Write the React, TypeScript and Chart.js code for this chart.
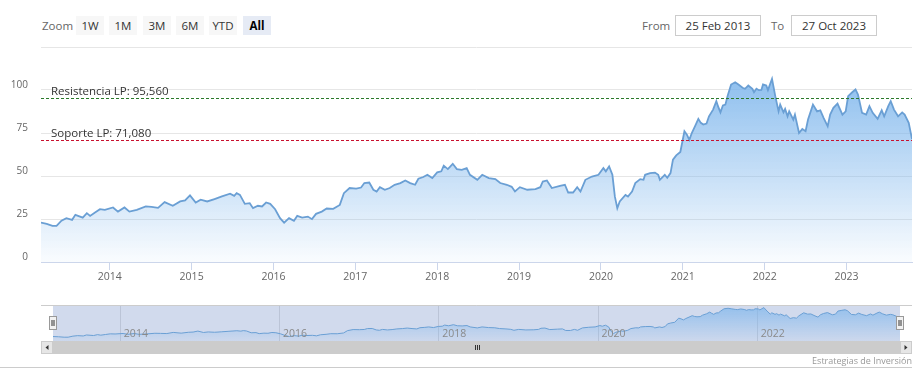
import React, { useEffect, useRef } from 'react';
import { Chart, registerables } from 'chart.js';

Chart.register(...registerables);

// ---- data ----
const dates: number[] = [
  2013.16, 2013.23, 2013.30, 2013.35, 2013.41, 2013.47, 2013.54, 2013.58, 2013.67, 2013.72,
  2013.76, 2013.82, 2013.88, 2013.94, 2014.04, 2014.10, 2014.18, 2014.24, 2014.33, 2014.44,
  2014.51, 2014.59, 2014.67, 2014.77, 2014.86, 2014.92, 2014.98, 2015.05, 2015.11, 2015.19,
  2015.28, 2015.37, 2015.47, 2015.52, 2015.55, 2015.59, 2015.65, 2015.71, 2015.75, 2015.81,
  2015.86, 2015.91, 2015.96, 2016.02, 2016.08, 2016.13, 2016.19, 2016.25, 2016.29, 2016.35,
  2016.42, 2016.47, 2016.52, 2016.59, 2016.65, 2016.73, 2016.81, 2016.86, 2016.93, 2017.01,
  2017.07, 2017.11, 2017.17, 2017.22, 2017.26, 2017.30, 2017.36, 2017.42, 2017.48, 2017.55,
  2017.61, 2017.67, 2017.73, 2017.77, 2017.83, 2017.88, 2017.94, 2018.00, 2018.05, 2018.08,
  2018.13, 2018.19, 2018.24, 2018.30, 2018.36, 2018.40, 2018.49, 2018.55, 2018.63, 2018.71,
  2018.77, 2018.85, 2018.91, 2018.95, 2019.01, 2019.10, 2019.20, 2019.26, 2019.29, 2019.34,
  2019.40, 2019.50, 2019.56, 2019.60, 2019.66, 2019.71, 2019.75, 2019.81, 2019.89, 2019.97,
  2020.03, 2020.06, 2020.10, 2020.14, 2020.17, 2020.20, 2020.23, 2020.30, 2020.33, 2020.38,
  2020.42, 2020.48, 2020.52, 2020.54, 2020.60, 2020.66, 2020.70, 2020.72, 2020.78, 2020.81,
  2020.85, 2020.88, 2020.92, 2020.97, 2021.02, 2021.05, 2021.08, 2021.11, 2021.15, 2021.19,
  2021.22, 2021.25, 2021.29, 2021.32, 2021.37, 2021.41, 2021.43, 2021.46, 2021.49, 2021.52,
  2021.55, 2021.59, 2021.64, 2021.68, 2021.73, 2021.76, 2021.80, 2021.85, 2021.87, 2021.90,
  2021.93, 2021.96, 2021.98, 2022.02, 2022.04, 2022.09, 2022.13, 2022.17, 2022.19, 2022.23,
  2022.25, 2022.28, 2022.30, 2022.35, 2022.37, 2022.42, 2022.46, 2022.50, 2022.53, 2022.59,
  2022.64, 2022.68, 2022.72, 2022.77, 2022.80, 2022.84, 2022.89, 2022.95, 2022.99, 2023.02,
  2023.07, 2023.11, 2023.14, 2023.19, 2023.24, 2023.28, 2023.32, 2023.38, 2023.43, 2023.46,
  2023.51, 2023.54, 2023.58, 2023.63, 2023.68, 2023.71, 2023.76, 2023.80,
];

const prices: number[] = [
  22.9, 22.2, 21.0, 21.0, 24.0, 25.5, 24.5, 27.4, 25.8, 28.4,
  26.8, 28.8, 30.7, 30.3, 31.7, 29.3, 31.7, 29.3, 30.3, 32.3,
  32.0, 31.5, 34.8, 32.7, 35.2, 35.8, 38.7, 34.6, 36.2, 35.2,
  36.6, 38.1, 39.7, 38.5, 40.0, 39.0, 33.8, 34.2, 31.3, 32.7,
  32.3, 34.6, 33.8, 30.7, 25.5, 22.9, 25.5, 24.0, 26.8, 25.8,
  26.4, 24.9, 28.0, 29.3, 31.1, 30.9, 33.2, 40.0, 43.0, 42.7,
  43.3, 45.9, 46.2, 42.0, 41.0, 43.5, 42.0, 43.0, 44.9, 45.9,
  47.4, 45.9, 44.9, 48.4, 49.4, 50.7, 48.8, 52.1, 52.7, 56.0,
  54.0, 57.1, 54.0, 53.6, 54.6, 50.7, 47.8, 50.7, 48.8, 48.2,
  45.9, 44.9, 43.7, 41.0, 43.5, 42.0, 42.4, 43.5, 46.8, 47.4,
  43.0, 44.3, 44.9, 40.4, 40.4, 43.5, 41.0, 47.8, 49.7, 50.7,
  54.6, 52.7, 55.6, 50.7, 38.1, 31.3, 35.2, 39.0, 38.1, 41.0,
  45.9, 48.2, 47.8, 50.7, 51.7, 52.0, 50.7, 47.8, 50.7, 49.0,
  51.7, 59.5, 62.0, 64.0, 76.0, 74.0, 71.0, 75.0, 79.0, 83.2,
  80.9, 79.9, 80.5, 84.7, 88.6, 93.5, 90.6, 87.0, 91.0, 91.5,
  97.0, 103.2, 104.5, 103.2, 101.3, 100.7, 102.6, 100.7, 98.7, 100.7,
  99.9, 100.0, 103.2, 102.6, 99.9, 106.5, 96.4, 87.6, 91.5, 87.0,
  89.0, 84.7, 87.6, 82.8, 85.7, 75.0, 77.4, 76.0, 82.8, 91.5,
  87.6, 88.2, 83.8, 78.9, 85.7, 89.6, 92.1, 85.7, 87.6, 96.4,
  98.7, 100.3, 97.4, 86.7, 85.7, 90.6, 86.7, 83.2, 88.2, 84.7,
  90.6, 93.5, 88.6, 84.7, 87.0, 85.7, 80.9, 71.5,
];

const yearTicks: number[] = [2014, 2015, 2016, 2017, 2018, 2019, 2020, 2021, 2022, 2023];
const navYearTicks: number[] = [2014, 2016, 2018, 2020, 2022];
const yTicks: number[] = [0, 25, 50, 75, 100, 125];
const resistanceValue = 95.56;
const supportValue = 71.08;
const resistanceLabel = 'Resistencia LP: 95,560';
const supportLabel = 'Soporte LP: 71,080';
const zoomButtons: string[] = ['1W', '1M', '3M', '6M', 'YTD', 'All'];
const selectedButton = 'All';
const fromDate = '25 Feb 2013';
const toDate = '27 Oct 2023';
const creditsText = 'Estrategias de Inversión';

const FONT = '"Open Sans", "Noto Sans", Arial, sans-serif';
const LINE = '#6a9fd4';

function areaGradient(c: any, a0: number, a1: number) {
  const { ctx, chartArea } = c.chart;
  if (!chartArea) return 'rgba(124,181,236,0.4)';
  const g = ctx.createLinearGradient(0, chartArea.top, 0, chartArea.bottom);
  g.addColorStop(0, `rgba(124,181,236,${a0})`);
  g.addColorStop(1, `rgba(124,181,236,${a1})`);
  return g;
}

const plotLinesPlugin = {
  id: 'plotLines',
  afterDatasetsDraw(chart: any) {
    const { ctx, chartArea, scales } = chart;
    const lines = [
      { v: resistanceValue, color: '#2a7a2a', label: resistanceLabel },
      { v: supportValue, color: '#c8102e', label: supportLabel },
    ];
    ctx.save();
    for (const l of lines) {
      const y = Math.round(scales.y.getPixelForValue(l.v)) + 0.5;
      ctx.beginPath();
      ctx.setLineDash([3, 2]);
      ctx.strokeStyle = l.color;
      ctx.lineWidth = 1;
      ctx.moveTo(chartArea.left, y);
      ctx.lineTo(chartArea.right, y);
      ctx.stroke();
      ctx.setLineDash([]);
      ctx.fillStyle = '#333333';
      ctx.font = `11.5px ${FONT}`;
      ctx.textBaseline = 'middle';
      ctx.textAlign = 'left';
      ctx.fillText(l.label, chartArea.left + 10, y - 7);
    }
    ctx.restore();
  },
};

const navigatorPlugin = {
  id: 'navigatorDecor',
  beforeDatasetsDraw(chart: any) {
    const { ctx, chartArea, scales } = chart;
    ctx.save();
    ctx.strokeStyle = '#e0e0e0';
    ctx.lineWidth = 1;
    for (const t of navYearTicks) {
      const x = Math.round(scales.x.getPixelForValue(t)) + 0.5;
      ctx.beginPath();
      ctx.moveTo(x, chartArea.top);
      ctx.lineTo(x, chartArea.bottom);
      ctx.stroke();
    }
    ctx.fillStyle = 'rgba(102,133,194,0.3)';
    ctx.fillRect(chartArea.left, chartArea.top, chartArea.right - chartArea.left, chartArea.bottom - chartArea.top);
    ctx.restore();
  },
  afterDatasetsDraw(chart: any) {
    const { ctx, chartArea, scales } = chart;
    const L = 41, R = 912;
    const top = chartArea.top, bottom = chartArea.bottom;
    ctx.save();
    ctx.fillStyle = '#8a8a8a';
    ctx.font = `10.5px ${FONT}`;
    ctx.textBaseline = 'middle';
    ctx.textAlign = 'left';
    for (const t of navYearTicks) {
      const x = scales.x.getPixelForValue(t);
      ctx.fillText(String(t), x + 4, bottom - 7);
    }
    ctx.strokeStyle = '#cccccc';
    ctx.lineWidth = 1;
    ctx.beginPath();
    ctx.moveTo(L, top + 0.5);
    ctx.lineTo(R, top + 0.5);
    ctx.stroke();
    const sTop = bottom, sH = 13;
    ctx.fillStyle = '#f2f2f2';
    ctx.fillRect(L, sTop, R - L, sH);
    ctx.fillStyle = '#cccccc';
    ctx.fillRect(chartArea.left, sTop, chartArea.right - chartArea.left, sH);
    ctx.fillStyle = '#e6e6e6';
    ctx.fillRect(L, sTop, chartArea.left - L, sH);
    ctx.fillRect(chartArea.right, sTop, R - chartArea.right, sH);
    ctx.strokeStyle = '#cccccc';
    ctx.strokeRect(L + 0.5, sTop + 0.5, chartArea.left - L - 1, sH - 1);
    ctx.strokeRect(chartArea.right + 0.5, sTop + 0.5, R - chartArea.right - 1, sH - 1);
    ctx.fillStyle = '#333333';
    const my = sTop + sH / 2;
    const lx = (L + chartArea.left) / 2;
    const rx = (R + chartArea.right) / 2;
    ctx.beginPath();
    ctx.moveTo(lx - 1.5, my);
    ctx.lineTo(lx + 1.5, my - 2.5);
    ctx.lineTo(lx + 1.5, my + 2.5);
    ctx.closePath();
    ctx.fill();
    ctx.beginPath();
    ctx.moveTo(rx + 1.5, my);
    ctx.lineTo(rx - 1.5, my - 2.5);
    ctx.lineTo(rx - 1.5, my + 2.5);
    ctx.closePath();
    ctx.fill();
    const gx = Math.round((chartArea.left + chartArea.right) / 2);
    ctx.strokeStyle = '#333333';
    for (const dx of [-2, 0, 2]) {
      ctx.beginPath();
      ctx.moveTo(gx + dx + 0.5, my - 2.5);
      ctx.lineTo(gx + dx + 0.5, my + 2.5);
      ctx.stroke();
    }
    const hy = top + 11;
    for (const hx of [chartArea.left, chartArea.right]) {
      const x0 = Math.round(hx) - 3.5;
      ctx.fillStyle = '#f2f2f2';
      ctx.fillRect(x0, hy + 0.5, 7, 13);
      ctx.strokeStyle = '#999999';
      ctx.strokeRect(x0, hy + 0.5, 7, 13);
      ctx.strokeStyle = '#333333';
      ctx.beginPath();
      ctx.moveTo(x0 + 2.5, hy + 4);
      ctx.lineTo(x0 + 2.5, hy + 10);
      ctx.moveTo(x0 + 4.5, hy + 4);
      ctx.lineTo(x0 + 4.5, hy + 10);
      ctx.stroke();
    }
    ctx.restore();
  },
};

export default function App() {
  const mainRef = useRef<HTMLCanvasElement | null>(null);
  const navRef = useRef<HTMLCanvasElement | null>(null);

  useEffect(() => {
    Chart.defaults.font.family = FONT;
    const points = dates.map((d, i) => ({ x: d, y: prices[i] }));
    const xMin = dates[0];
    const xMax = dates[dates.length - 1];

    const main = new Chart(mainRef.current as HTMLCanvasElement, {
      type: 'line',
      data: {
        datasets: [
          {
            data: points,
            borderColor: LINE,
            borderWidth: 1.8,
            pointRadius: 0,
            tension: 0,
            fill: 'origin',
            backgroundColor: (c: any) => areaGradient(c, 1, 0.04),
          },
        ],
      },
      options: {
        animation: false,
        responsive: false,
        events: [],
        layout: { padding: { left: 0, right: 11, top: 7, bottom: 0 } },
        plugins: { legend: { display: false }, tooltip: { enabled: false } },
        scales: {
          x: {
            type: 'linear',
            min: xMin,
            max: xMax,
            afterBuildTicks: (s: any) => {
              s.ticks = yearTicks.map((v) => ({ value: v }));
            },
            afterFit: (s: any) => {
              s.height = 28;
              s.paddingLeft = 0;
              s.paddingRight = 0;
            },
            grid: { drawOnChartArea: false, tickLength: 8, color: '#ccd6eb' },
            border: { color: '#ccd6eb' },
            ticks: {
              autoSkip: false,
              maxRotation: 0,
              padding: 1,
              color: '#666666',
              font: { size: 10.5 },
              callback: (v: any) => String(v),
            },
          },
          y: {
            min: 0,
            max: 125,
            afterBuildTicks: (s: any) => {
              s.ticks = yTicks.map((v) => ({ value: v }));
            },
            afterFit: (s: any) => {
              s.width = 41;
              s.paddingTop = 0;
              s.paddingBottom = 0;
            },
            grid: { color: '#e6e6e6', drawTicks: false },
            border: { display: false },
            ticks: {
              padding: 13,
              labelOffset: -4.5,
              color: '#666666',
              font: { size: 10 },
              callback: (v: any) => (v === 125 ? '' : String(v)),
            },
          },
        },
      },
      plugins: [plotLinesPlugin],
    } as any);

    const nav = new Chart(navRef.current as HTMLCanvasElement, {
      type: 'line',
      data: {
        datasets: [
          {
            data: points,
            borderColor: LINE,
            borderWidth: 1,
            pointRadius: 0,
            tension: 0,
            fill: 'start',
            backgroundColor: (c: any) => areaGradient(c, 0.75, 0.05),
          },
        ],
      },
      options: {
        animation: false,
        responsive: false,
        events: [],
        layout: { padding: { left: 53, right: 23, top: 5, bottom: 19 } },
        plugins: { legend: { display: false }, tooltip: { enabled: false } },
        scales: {
          x: { type: 'linear', display: false, min: xMin, max: xMax },
          y: { display: false, min: 10, max: 114 },
        },
      },
      plugins: [navigatorPlugin],
    } as any);

    return () => {
      main.destroy();
      nav.destroy();
    };
  }, []);

  const btnLeft = [76, 109, 143, 176, 209, 243];

  return (
    <div
      style={{
        position: 'absolute',
        left: 0,
        top: 0,
        width: 923,
        height: 385,
        background: '#ffffff',
        fontFamily: FONT,
        overflow: 'hidden',
      }}
    >
      <div style={{ position: 'absolute', left: 42, top: 16, height: 19, lineHeight: '19px', fontSize: 11.5, color: '#666666' }}>
        Zoom
      </div>
      {zoomButtons.map((b, i) => (
        <div
          key={b}
          style={{
            position: 'absolute',
            left: btnLeft[i],
            top: 16,
            width: 28,
            height: 19,
            lineHeight: '19px',
            textAlign: 'center',
            fontSize: 11.5,
            background: b === selectedButton ? '#e6ebf5' : '#f7f7f7',
            color: b === selectedButton ? '#000000' : '#333333',
            fontWeight: b === selectedButton ? 700 : 400,
          }}
        >
          {b}
        </div>
      ))}
      <div style={{ position: 'absolute', left: 642, top: 16, height: 19, lineHeight: '19px', fontSize: 11.5, color: '#666666' }}>
        From
      </div>
      <div
        style={{
          position: 'absolute',
          left: 675,
          top: 15,
          width: 84,
          height: 19,
          lineHeight: '19px',
          border: '1px solid #cccccc',
          textAlign: 'center',
          fontSize: 11.5,
          color: '#333333',
        }}
      >
        {fromDate}
      </div>
      <div style={{ position: 'absolute', left: 771, top: 16, height: 19, lineHeight: '19px', fontSize: 11.5, color: '#666666' }}>
        To
      </div>
      <div
        style={{
          position: 'absolute',
          left: 791,
          top: 15,
          width: 84,
          height: 19,
          lineHeight: '19px',
          border: '1px solid #cccccc',
          textAlign: 'center',
          fontSize: 11.5,
          color: '#333333',
        }}
      >
        {toDate}
      </div>
      <canvas ref={mainRef} width={923} height={250} style={{ position: 'absolute', left: 0, top: 40, width: 923, height: 250 }} />
      <canvas ref={navRef} width={923} height={60} style={{ position: 'absolute', left: 0, top: 300, width: 923, height: 60 }} />
      <div
        style={{
          position: 'absolute',
          right: 11,
          top: 354,
          fontSize: 9,
          lineHeight: '13px',
          color: '#999999',
        }}
      >
        {creditsText}
      </div>
      <div style={{ position: 'absolute', left: 0, top: 367, width: 912, height: 1, background: '#cccccc' }} />
    </div>
  );
}
